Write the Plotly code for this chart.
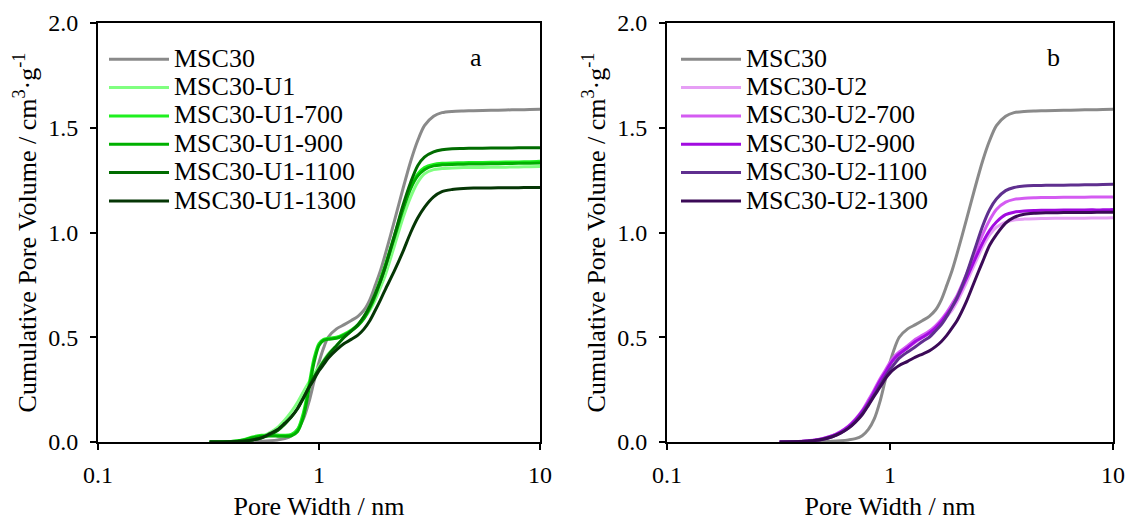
import plotly.graph_objects as go
from plotly.subplots import make_subplots

# ---------------- data ----------------
pore_width = [0.32, 0.4, 0.45, 0.5, 0.55, 0.6, 0.65, 0.7, 0.75, 0.8, 0.85, 0.9, 0.95, 1.0,
              1.05, 1.1, 1.2, 1.3, 1.4, 1.5, 1.6, 1.7, 1.8, 1.9, 2.0, 2.2, 2.4, 2.6, 2.8,
              3.0, 3.3, 3.6, 4.0, 4.5, 5.0, 6.0, 7.0, 8.0, 9.0, 10.0]

msc30 = [0, 0, 0, 0.001, 0.003, 0.006, 0.01, 0.016, 0.03, 0.06, 0.11, 0.19, 0.29, 0.38,
         0.45, 0.50, 0.54, 0.56, 0.58, 0.60, 0.63, 0.68, 0.75, 0.82, 0.90, 1.06, 1.21, 1.34,
         1.44, 1.51, 1.555, 1.572, 1.578, 1.58, 1.581, 1.583, 1.585, 1.586, 1.587, 1.588]

u1 = [0, 0.002, 0.006, 0.012, 0.025, 0.045, 0.07, 0.105, 0.145, 0.19, 0.24, 0.285, 0.325,
      0.36, 0.39, 0.42, 0.46, 0.50, 0.53, 0.56, 0.59, 0.63, 0.68, 0.74, 0.80, 0.94, 1.07,
      1.17, 1.24, 1.28, 1.30, 1.305, 1.308, 1.31, 1.31, 1.311, 1.312, 1.313, 1.314, 1.315]
u1_700 = [0, 0.002, 0.01, 0.024, 0.032, 0.034, 0.033, 0.032, 0.036, 0.06, 0.14, 0.27, 0.40,
          0.47, 0.49, 0.495, 0.50, 0.515, 0.535, 0.56, 0.60, 0.65, 0.71, 0.78, 0.85, 0.99,
          1.12, 1.22, 1.28, 1.31, 1.325, 1.33, 1.332, 1.333, 1.334, 1.335, 1.336, 1.337,
          1.338, 1.34]
u1_900 = [0, 0.002, 0.008, 0.02, 0.027, 0.029, 0.028, 0.027, 0.03, 0.05, 0.12, 0.25, 0.38,
          0.46, 0.485, 0.49, 0.495, 0.51, 0.53, 0.555, 0.59, 0.64, 0.70, 0.77, 0.84, 0.98,
          1.11, 1.21, 1.27, 1.30, 1.318, 1.323, 1.325, 1.326, 1.327, 1.328, 1.329, 1.33,
          1.331, 1.332]
u1_1100 = [0, 0.001, 0.004, 0.01, 0.02, 0.035, 0.055, 0.085, 0.12, 0.16, 0.21, 0.26, 0.31,
           0.35, 0.385, 0.415, 0.46, 0.50, 0.53, 0.56, 0.60, 0.65, 0.71, 0.77, 0.84, 0.99,
           1.13, 1.24, 1.32, 1.36, 1.385, 1.395, 1.40, 1.401, 1.402, 1.403, 1.403, 1.404,
           1.404, 1.405]
u1_1300 = [0, 0.001, 0.004, 0.01, 0.02, 0.04, 0.06, 0.09, 0.12, 0.16, 0.21, 0.26, 0.30,
           0.34, 0.37, 0.40, 0.44, 0.47, 0.49, 0.51, 0.54, 0.58, 0.63, 0.68, 0.73, 0.82,
           0.91, 1.00, 1.07, 1.12, 1.17, 1.195, 1.205, 1.21, 1.212, 1.213, 1.214, 1.214,
           1.215, 1.215]

u2 = [0, 0.002, 0.007, 0.015, 0.028, 0.047, 0.072, 0.105, 0.145, 0.19, 0.24, 0.29, 0.33,
      0.37, 0.40, 0.42, 0.45, 0.475, 0.50, 0.52, 0.545, 0.57, 0.60, 0.63, 0.67, 0.76, 0.85,
      0.93, 0.99, 1.025, 1.05, 1.06, 1.064, 1.066, 1.067, 1.068, 1.068, 1.069, 1.069, 1.07]
u2_700 = [0, 0.003, 0.008, 0.017, 0.03, 0.05, 0.076, 0.11, 0.15, 0.20, 0.25, 0.30, 0.34,
          0.38, 0.41, 0.43, 0.46, 0.49, 0.51, 0.53, 0.555, 0.585, 0.62, 0.66, 0.70, 0.80,
          0.90, 0.99, 1.06, 1.11, 1.145, 1.158, 1.164, 1.166, 1.167, 1.168, 1.168, 1.169,
          1.169, 1.17]
u2_900 = [0, 0.002, 0.007, 0.016, 0.029, 0.048, 0.073, 0.106, 0.146, 0.19, 0.24, 0.29, 0.33,
          0.37, 0.40, 0.42, 0.45, 0.48, 0.50, 0.52, 0.545, 0.575, 0.61, 0.645, 0.685, 0.78,
          0.87, 0.95, 1.01, 1.05, 1.085, 1.097, 1.103, 1.105, 1.106, 1.107, 1.107, 1.108,
          1.108, 1.11]
u2_1100 = [0, 0.002, 0.006, 0.013, 0.025, 0.043, 0.066, 0.097, 0.135, 0.18, 0.225, 0.27,
           0.31, 0.345, 0.375, 0.40, 0.43, 0.455, 0.48, 0.50, 0.53, 0.56, 0.60, 0.645, 0.69,
           0.80, 0.92, 1.03, 1.11, 1.16, 1.20, 1.215, 1.222, 1.224, 1.225, 1.226, 1.227,
           1.228, 1.229, 1.23]
u2_1300 = [0, 0.002, 0.006, 0.013, 0.025, 0.042, 0.065, 0.095, 0.13, 0.175, 0.22, 0.26,
           0.30, 0.33, 0.35, 0.365, 0.385, 0.405, 0.42, 0.435, 0.455, 0.48, 0.51, 0.545,
           0.58, 0.67, 0.77, 0.86, 0.94, 0.99, 1.045, 1.072, 1.087, 1.092, 1.094, 1.095,
           1.096, 1.096, 1.097, 1.097]

names_a = ["MSC30", "MSC30-U1", "MSC30-U1-700", "MSC30-U1-900", "MSC30-U1-1100", "MSC30-U1-1300"]
series_a = [msc30, u1, u1_700, u1_900, u1_1100, u1_1300]
colors_a = ["#8a8a8a", "#80ff80", "#1ff01f", "#00b000", "#006c00", "#053605"]

names_b = ["MSC30", "MSC30-U2", "MSC30-U2-700", "MSC30-U2-900", "MSC30-U2-1100", "MSC30-U2-1300"]
series_b = [msc30, u2, u2_700, u2_900, u2_1100, u2_1300]
colors_b = ["#8a8a8a", "#e69ff5", "#d45bf2", "#a20be0", "#5f2f8f", "#3b0a57"]

x_ticks = [0.1, 1, 10]
x_tick_text = ["0.1", "1", "10"]
y_ticks = [0, 0.5, 1.0, 1.5, 2.0]

# ---------------- figure ----------------
FONT = "Liberation Serif"
W, H = 1128, 523

fig = make_subplots(rows=1, cols=2)

def lbl(s):
    return '<span style="font-size:26px">' + s + '</span>'

for name, ys, col in zip(names_a, series_a, colors_a):
    fig.add_trace(go.Scatter(x=pore_width, y=ys, mode="lines", name=lbl(name),
                             line=dict(color=col, width=3, shape="spline", smoothing=0.8),
                             legend="legend"), row=1, col=1)
for name, ys, col in zip(names_b, series_b, colors_b):
    fig.add_trace(go.Scatter(x=pore_width, y=ys, mode="lines", name=lbl(name),
                             line=dict(color=col, width=3, shape="spline", smoothing=0.8),
                             legend="legend2"), row=1, col=2)

axis_common = dict(showline=True, linecolor="black", linewidth=2, mirror=True,
                   ticks="outside", ticklen=6, tickwidth=2, tickcolor="black",
                   showgrid=False, zeroline=False, automargin=False,
                   tickfont=dict(family=FONT, size=24, color="black"))

xdom_a = [98 / W, 540 / W]
xdom_b = [667 / W, 1113 / W]
ydom = [1 - 442 / H, 1 - 23 / H]

for i, dom in ((1, xdom_a), (2, xdom_b)):
    fig.update_xaxes(type="log", range=[-1, 1], tickvals=x_ticks, ticktext=x_tick_text,
                     domain=dom, ticklabelstandoff=4,
                     title=dict(text="Pore Width / nm", font=dict(family=FONT, size=26, color="black"),
                                standoff=10),
                     row=1, col=i, **axis_common)
    fig.update_yaxes(range=[0, 2], tickvals=y_ticks, tickformat=".1f",
                     domain=ydom, ticklabelstandoff=7,
                     title=dict(text="Cumulative Pore Volume / cm<sup>3</sup>·g<sup>-1</sup>",
                                font=dict(family=FONT, size=26, color="black"), standoff=4),
                     row=1, col=i, **axis_common)

legend_common = dict(font=dict(family=FONT, size=19.5, color="black"),
                     bgcolor="rgba(0,0,0,0)", itemwidth=60, yanchor="top", xanchor="left",
                     tracegroupgap=0)
fig.update_layout(
    width=W, height=H,
    margin=dict(l=0, r=0, t=0, b=0),
    paper_bgcolor="white", plot_bgcolor="white",
    font=dict(family=FONT, color="black"),
    legend=dict(x=104 / W, y=1 - 40 / H, **legend_common),
    legend2=dict(x=676 / W, y=1 - 40 / H, **legend_common),
    annotations=[
        dict(text="a", x=476 / W, y=1 - 57 / H, xref="paper", yref="paper", showarrow=False,
             xanchor="center", yanchor="middle",
             font=dict(family=FONT, size=26, color="black")),
        dict(text="b", x=1053 / W, y=1 - 57 / H, xref="paper", yref="paper", showarrow=False,
             xanchor="center", yanchor="middle",
             font=dict(family=FONT, size=26, color="black")),
    ],
)

fig.write_html("out.html")
